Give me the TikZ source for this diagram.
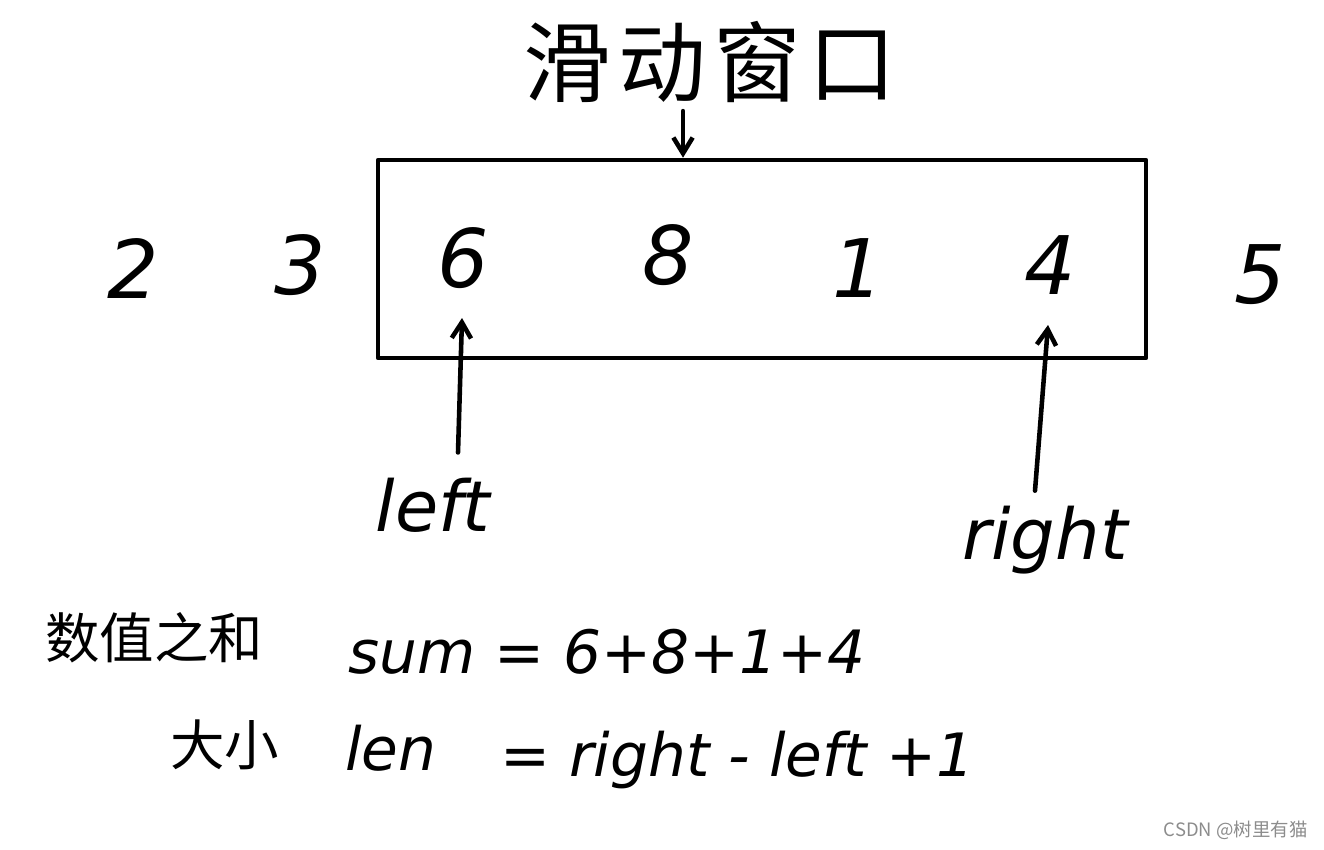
\documentclass[tikz,border=0pt]{standalone}
\usepackage{fontspec}
\setmainfont{DejaVu Sans}
\newfontfamily\cjk{Noto Sans CJK SC}
\newfontfamily\cjkwide[LetterSpace=8]{Noto Sans CJK SC}
\usetikzlibrary{positioning, arrows.meta}

\begin{document}
\begin{tikzpicture}[
  x=0.02cm, y=-0.02cm,
  ink/.style    = {line width=2.6pt, line cap=round, line join=round},
  digit/.style  = {font=\fontsize{46}{48}\selectfont\itshape, inner sep=0pt},
  label/.style  = {font=\fontsize{40}{42}\selectfont\itshape, inner sep=0pt},
  formula/.style= {font=\fontsize{34}{36}\selectfont\itshape, inner sep=0pt, anchor=west},
  zh/.style     = {font=\cjk\fontsize{31}{33}\selectfont, inner sep=0pt},
  window/.style = {ink, draw, minimum width=768*0.02cm, minimum height=198*0.02cm},
  >={Straight Barb[length=9pt, width=11pt]}
]
\useasboundingbox (0,0) rectangle (1324,849);
% Title
\node[font=\cjkwide\fontsize{50}{52}\selectfont, inner sep=0pt] (title) at (710,62) {滑动窗口};
% Window box
\node[window] (box) at (762,259) {};
% Numbers
\node[digit] (n2) at (133,268) {2};
\node[digit] (n3) at (300,265) {3};
\node[digit] (n6) at (463,258) {6};
\node[digit] (n8) at (668,255) {8};
\node[digit] (n1) at (858,268) {1};
\node[digit] (n4) at (1050,265) {4};
\node[digit] (n5) at (1260,275) {5};
% Pointer labels
\node[label] (left)  at (433,505) {left};
\node[label] (right) at (1045,540) {right};
\coordinate (ltip) at (462,318);
\coordinate (rtip) at (1048,325);
% Arrows
\draw[ink, ->] (title.south -| 683,0) ++(0,8) -- (box.north -| 683,0);
\draw[ink, ->] (left.north -| 458,0) ++(0,-25) -- (ltip);
\draw[ink, ->] (right.north -| 1035,0) ++(0,-15) -- (rtip);
% Formulas
\node[zh, anchor=west] (sumzh) at (45,638) {数值之和};
\node[formula] (sum) at (348,652) {sum = 6+8+1+4};
\node[zh, anchor=west] (lenzh) at (170,745) {大小};
\node[formula] (len) at (345,748) {len};
\node[formula] (lenval) at (500,760) {= right - left +1};
% Watermark
\node[font=\cjk\fontsize{10.5}{12}\selectfont, text=black!45, anchor=east, inner sep=0pt] (mark) at (1308,830) {CSDN @树里有猫};
\end{tikzpicture}
\end{document}
